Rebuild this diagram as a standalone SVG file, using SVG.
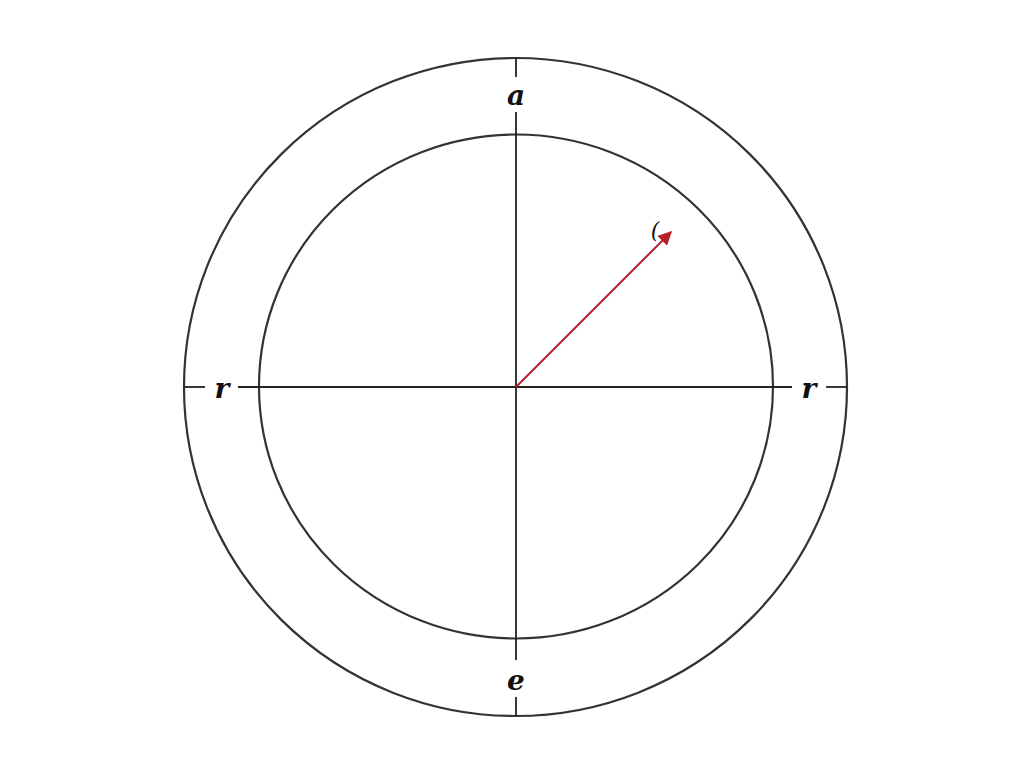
<svg xmlns="http://www.w3.org/2000/svg" width="1024" height="768" viewBox="0 0 1024 768">
<style>
.ring{fill:none;stroke:#333;stroke-width:2.2}
.axis{stroke:#222;stroke-width:1.8}
.lbl{font-family:"DejaVu Serif","Liberation Serif",serif;font-style:italic;font-weight:bold;font-size:28px;fill:#111;text-anchor:middle;dominant-baseline:central}
.paren{font-family:"DejaVu Serif","Liberation Serif",serif;font-style:italic;font-weight:normal;font-size:22px;fill:#111;text-anchor:middle;dominant-baseline:central}
</style>
<defs>
<marker id="ah" viewBox="0 0 10 10" refX="9" refY="5" markerWidth="7" markerHeight="7" orient="auto" markerUnits="strokeWidth">
<path d="M0,0 L10,5 L0,10 z" fill="#b5202a"/>
</marker>
</defs>
<rect width="1024" height="768" fill="#fff"/>
<g id="outer-circle"><ellipse class="ring" cx="515.5" cy="387" rx="331.5" ry="329"/></g>
<g id="inner-circle"><ellipse class="ring" cx="516" cy="386.5" rx="257" ry="252"/></g>
<g id="connectors">
<line class="axis" x1="516" y1="58" x2="516" y2="77"/>
<line class="axis" x1="516" y1="112" x2="516" y2="660"/>
<line class="axis" x1="516" y1="697" x2="516" y2="716"/>
<line class="axis" x1="184" y1="387" x2="205" y2="387"/>
<line class="axis" x1="238" y1="387" x2="792" y2="387"/>
<line class="axis" x1="826" y1="387" x2="847" y2="387"/>
<line x1="516" y1="387" x2="671" y2="232" stroke="#b5202a" stroke-width="2" marker-end="url(#ah)"/>
</g>
<g id="label-top"><text class="lbl" x="516" y="95">a</text></g>
<g id="label-left"><text class="lbl" x="222" y="388">r</text></g>
<g id="label-right"><text class="lbl" x="809" y="388">r</text></g>
<g id="label-bottom"><text class="lbl" x="516" y="680">e</text></g>
<g id="label-angle"><text class="paren" x="655" y="230">(</text></g>
</svg>
